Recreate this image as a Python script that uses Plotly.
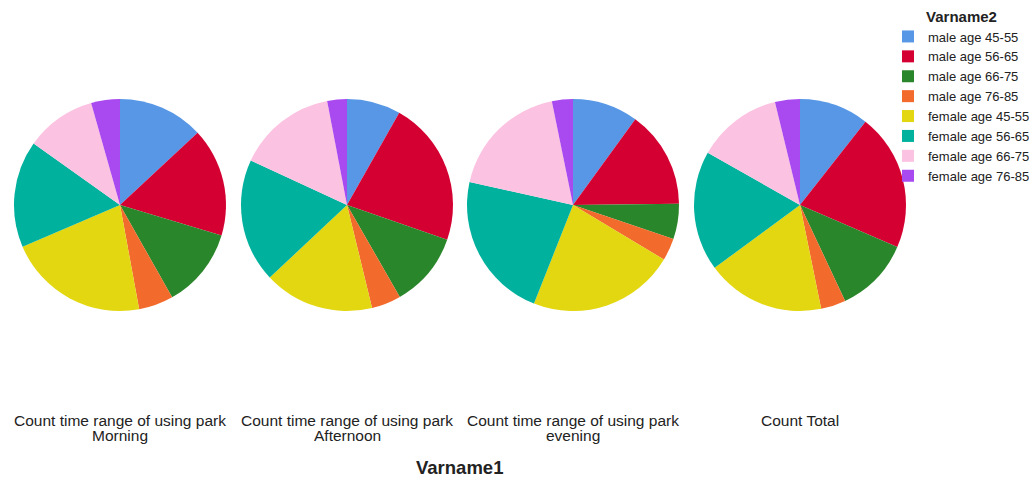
import plotly.graph_objects as go

categories = ["male age 45-55", "male age 56-65", "male age 66-75", "male age 76-85",
              "female age 45-55", "female age 56-65", "female age 66-75", "female age 76-85"]
colors = ["#5797E5", "#D50032", "#2A862A", "#F26A2C", "#E2D710", "#00B19D", "#FCC2E1", "#A94AF0"]

pie_title_line1 = ["Count time range of using park",
                   "Count time range of using park",
                   "Count time range of using park",
                   "Count Total"]
pie_title_line2 = ["Morning", "Afternoon", "evening", ""]

morning = [13.1, 16.6, 12.2, 5.3, 21.5, 16.3, 10.8, 4.4]
afternoon = [8.2, 22.1, 11.4, 4.5, 16.8, 18.9, 15.1, 3.0]
evening = [10.0, 14.8, 5.4, 3.4, 22.4, 22.5, 18.3, 3.2]
total = [10.6, 20.9, 11.5, 3.8, 18.1, 18.3, 13.0, 3.8]
series = [morning, afternoon, evening, total]

W, H = 1029, 480
centers_x = [120, 347, 573, 800]
center_y = 205
R = 106

fig = go.Figure()
for i, vals in enumerate(series):
    cx = centers_x[i]
    fig.add_trace(go.Pie(
        labels=categories, values=vals,
        marker=dict(colors=colors, line=dict(width=0)),
        sort=False, direction="clockwise", rotation=0,
        textinfo="none", hoverinfo="label+value",
        showlegend=(i == 0),
        domain=dict(x=[(cx - R) / W, (cx + R) / W],
                    y=[1 - (center_y + R) / H, 1 - (center_y - R) / H]),
    ))
    fig.add_annotation(x=cx / W, y=1 - 420 / H, xref="paper", yref="paper",
                       text=pie_title_line1[i], showarrow=False, xanchor="center", yanchor="middle",
                       font=dict(size=15.5, color="#222222"))
    if pie_title_line2[i]:
        fig.add_annotation(x=cx / W, y=1 - 435 / H, xref="paper", yref="paper",
                           text=pie_title_line2[i], showarrow=False, xanchor="center", yanchor="middle",
                           font=dict(size=15.5, color="#222222"))

fig.add_annotation(x=459 / W, y=1 - 467 / H, xref="paper", yref="paper",
                   text="<b>Varname1</b>", showarrow=False, xanchor="center", yanchor="middle",
                   font=dict(size=18.5, color="#222222"))

fig.update_layout(
    width=W, height=H,
    margin=dict(l=0, r=0, t=0, b=0, autoexpand=False),
    paper_bgcolor="white", plot_bgcolor="white",
    font=dict(family="Liberation Sans, Arial, sans-serif", color="#222222"),
    legend=dict(
        title=dict(text="<b>Varname2</b>", font=dict(size=15), side="top center"),
        x=888 / W, y=1 - 2 / H, xanchor="left", yanchor="top",
        font=dict(size=13), itemwidth=30, tracegroupgap=0,
        bgcolor="rgba(0,0,0,0)",
    ),
)

fig.write_html("out.html", post_script="document.body.style.margin='0';",
               config={"displayModeBar": False})
